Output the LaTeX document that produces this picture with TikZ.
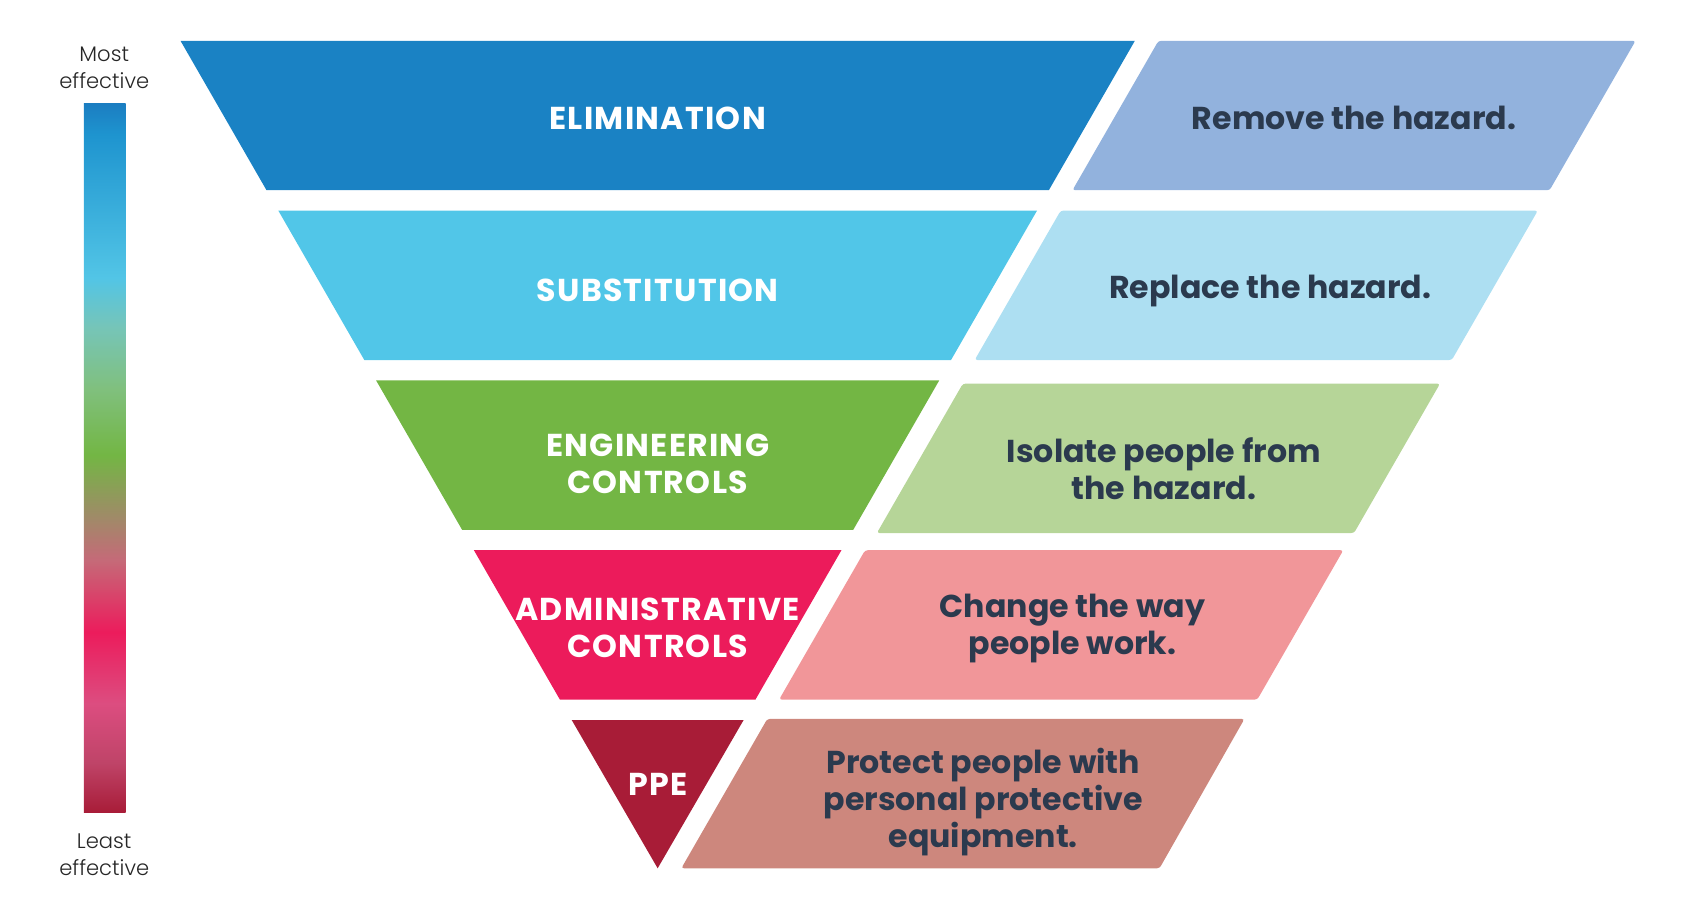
\documentclass[tikz,border=0pt]{standalone}
\usepackage{fontspec}
\setmainfont{Poppins}
\newfontfamily\thinfont{Poppins Light}
\usetikzlibrary{positioning}

\definecolor{elimC}{HTML}{1A82C4}
\definecolor{elimD}{HTML}{92B2DD}
\definecolor{substC}{HTML}{51C6E8}
\definecolor{substD}{HTML}{ADDFF2}
\definecolor{engC}{HTML}{73B644}
\definecolor{engD}{HTML}{B6D598}
\definecolor{adminC}{HTML}{EC1B5B}
\definecolor{adminD}{HTML}{F19699}
\definecolor{ppeC}{HTML}{A81C37}
\definecolor{ppeD}{HTML}{CD877D}
\definecolor{descT}{HTML}{2B3A4E}
% colours of the effectiveness bar, bottom to top
\definecolor{barA}{HTML}{A81C38}
\definecolor{barB}{HTML}{BF4468}
\definecolor{barC}{HTML}{DC4D80}
\definecolor{barD}{HTML}{EC1C5C}
\definecolor{barE}{HTML}{C56A78}
\definecolor{barF}{HTML}{A08A68}
\definecolor{barG}{HTML}{73B644}
\definecolor{barH}{HTML}{80C07E}
\definecolor{barI}{HTML}{76C5B8}
\definecolor{barJ}{HTML}{52C5E6}
\definecolor{barK}{HTML}{1E94CF}
\definecolor{barL}{HTML}{1B7DC1}
\pgfdeclareverticalshading{effshade}{100bp}{color(0bp)=(barA); color(25bp)=(barA);
  color(28.5bp)=(barB); color(32.7bp)=(barC); color(37.7bp)=(barD);
  color(42.8bp)=(barE); color(45.8bp)=(barF); color(50.2bp)=(barG);
  color(54.9bp)=(barH); color(59.2bp)=(barI); color(62.7bp)=(barJ);
  color(72.8bp)=(barK); color(75bp)=(barL); color(100bp)=(barL)}

\tikzset{
  ctrl/.style={font=\bfseries\addfontfeatures{LetterSpace=4}\fontsize{18}{21}\selectfont, text=white, align=center}
}
\tikzset{
  desc/.style={font=\bfseries\fontsize{18}{21}\selectfont, text=descT, align=center}
}
\tikzset{
  para/.style={rounded corners=1.5pt}
}
\tikzset{
  scalelbl/.style={font=\thinfont\fontsize{12}{15.5}\selectfont, text=black!85, align=center}
}

\begin{document}
\begin{tikzpicture}[x=0.021492cm, y=-0.021492cm]
      \useasboundingbox (0,0) rectangle (1568,851);

      % effectiveness bar
      \shade[shading=effshade] (78,96) rectangle (117,756);
      \node[scalelbl] (most) at (97,63) {Most\\effective};
      \node[scalelbl] (least) at (97,795) {Least\\effective};

      % elimination
      \fill[elimC] (168,38) -- (1056,38) -- (976,177) -- (248,177) -- cycle;
      \fill[elimD, para] (1078,38) -- (1522,38) -- (1442,177) -- (998,177) -- cycle;
      \node[ctrl] (elim) at (612,110) {ELIMINATION};
      \node[desc] (elimtxt) at (1260,110) {Remove the hazard.};

      % substitution
      \fill[substC] (259,196) -- (965,196) -- (885,335) -- (339,335) -- cycle;
      \fill[substD, para] (987,196) -- (1431,196) -- (1351,335) -- (907,335) -- cycle;
      \node[ctrl] (subst) at (612,270) {SUBSTITUTION};
      \node[desc] (substtxt) at (1182,271) {Replace the hazard.};

      % engineering controls
      \fill[engC] (350,354) -- (874,354) -- (794,493) -- (430,493) -- cycle;
      \fill[engD, para] (896,357) -- (1340,357) -- (1260,496) -- (816,496) -- cycle;
      \node[ctrl] (eng) at (612,432) {ENGINEERING\\CONTROLS};
      \node[desc] (engtxt) at (1083,436) {Isolate people from\\the hazard.};

      % administrative controls
      \fill[adminC] (441,512) -- (783,512) -- (703,651) -- (521,651) -- cycle;
      \fill[adminD, para] (805,512) -- (1250,512) -- (1170,651) -- (725,651) -- cycle;
      \node[ctrl] (admin) at (612,584) {ADMINISTRATIVE\\CONTROLS};
      \node[desc] (admintxt) at (998,585) {Change the way\\people work.};

      % ppe
      \fill[ppeC] (532,670) -- (692,670) -- (612,808) -- cycle;
      \fill[ppeD, para] (714,669) -- (1158,669) -- (1079,808) -- (634,808) -- cycle;
      \node[ctrl] (ppe) at (612,730) {PPE};
      \node[desc] (ppetxt) at (915,746) {Protect people with\\personal protective\\equipment.};

    \end{tikzpicture}
\end{document}
